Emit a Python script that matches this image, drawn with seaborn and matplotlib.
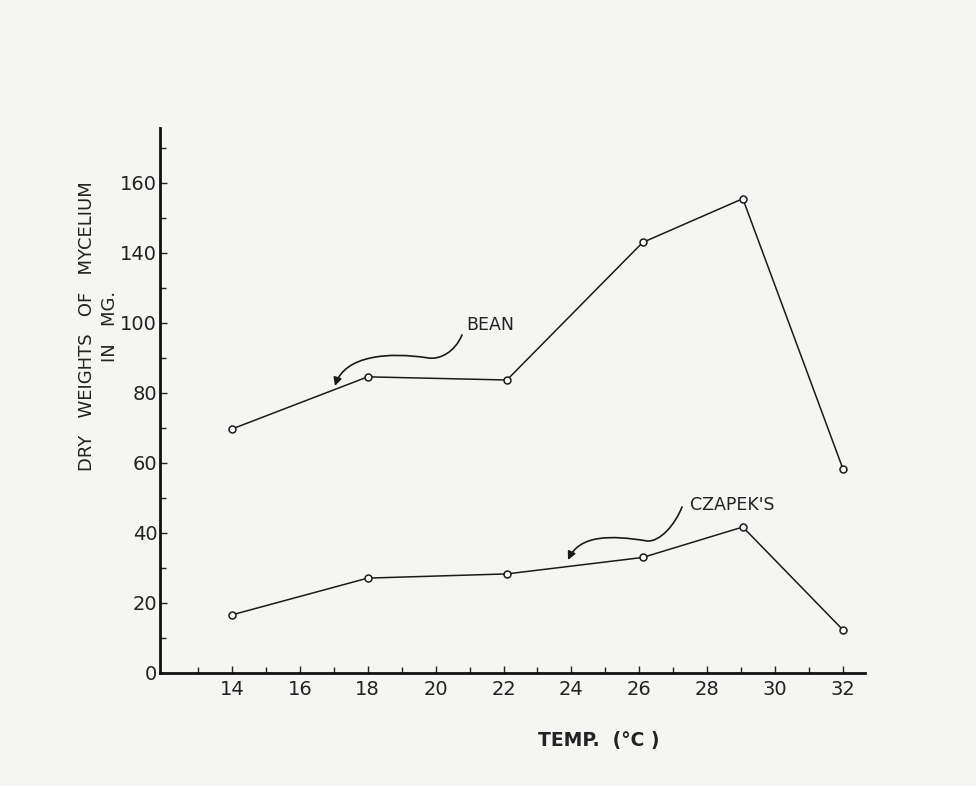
import matplotlib
matplotlib.use("Agg")
import matplotlib.pyplot as plt
import seaborn as sns
import pandas as pd
from matplotlib.path import Path
from matplotlib.patches import FancyArrowPatch
from matplotlib.ticker import FixedLocator, FixedFormatter

# ---- data ----
temps = [14, 18, 22.1, 26.1, 29.05, 32]
bean = [69.7, 84.6, 83.7, 123.0, 135.5, 58.3]
czapek = [16.6, 27.1, 28.3, 33.0, 41.7, 12.3]
ytick_pos = [0, 20, 40, 60, 80, 100, 120, 140]
ytick_labels = ["0", "20", "40", "60", "80", "100", "140", "160"]
xtick_pos = [14, 16, 18, 20, 22, 24, 26, 28, 30, 32]
xtick_labels = [str(v) for v in xtick_pos]

df = pd.DataFrame({
    "temp": temps * 2,
    "weight": bean + czapek,
    "medium": ["BEAN"] * len(temps) + ["CZAPEK'S"] * len(temps),
})

sns.set_theme(style="ticks")
plt.rcParams["font.family"] = ["DejaVu Sans"]

paper = "#f5f5f3"
fig = plt.figure(figsize=(9.76, 7.86), dpi=100, facecolor=paper)
ax = fig.add_axes([0.1639, 0.1438, 0.7224, 0.6934])
ax.set_facecolor(paper)

sns.lineplot(data=df, x="temp", y="weight", units="medium", estimator=None,
             color="#1a1a1a", linewidth=1.1, marker="o", markersize=5,
             markerfacecolor="white", markeredgecolor="#1a1a1a",
             markeredgewidth=1.1, ax=ax, legend=False)

ax.set_xlim(11.88, 32.65)
ax.set_ylim(0, 155.7)
for s in ["top", "right"]:
    ax.spines[s].set_visible(False)
for s in ["left", "bottom"]:
    ax.spines[s].set_linewidth(2.0)
    ax.spines[s].set_color("#111111")

ax.yaxis.set_major_locator(FixedLocator(ytick_pos))
ax.yaxis.set_major_formatter(FixedFormatter(ytick_labels))
ax.yaxis.set_minor_locator(FixedLocator([10, 30, 50, 70, 90, 110, 130, 150]))
ax.xaxis.set_major_locator(FixedLocator(xtick_pos))
ax.xaxis.set_major_formatter(FixedFormatter(xtick_labels))
ax.xaxis.set_minor_locator(FixedLocator([13, 15, 17, 19, 21, 23, 25, 27, 29, 31]))

ax.tick_params(axis="both", which="both", direction="in", color="#222222", width=1.0)
ax.tick_params(axis="both", which="major", length=5, labelsize=14, labelcolor="#222222")
ax.tick_params(axis="both", which="minor", length=4)
ax.tick_params(axis="y", which="major", pad=2)
ax.tick_params(axis="x", which="major", pad=5)
ax.set_xlabel("")
ax.set_ylabel("")

fig.text(0.101, 0.585, "DRY   WEIGHTS   OF   MYCELIUM\nIN   MG.", rotation=90,
         ha="center", va="center", fontsize=13, color="#222222", linespacing=1.3,
         multialignment="center")
fig.text(0.613, 0.058, "TEMP.  (°C )", ha="center", va="center", fontsize=13.5,
         color="#222222", fontweight="bold")

ax.text(21.6, 99.4, "BEAN", ha="center", va="center", fontsize=12.5, color="#222222")
ax.text(28.73, 48.0, "CZAPEK'S", ha="center", va="center", fontsize=12.5, color="#222222")

def curve(pts):
    codes = [Path.MOVETO] + [Path.CURVE4] * (len(pts) - 1)
    return Path(pts, codes)

bean_arrow = [(20.777, 96.57), (20.57, 91.71), (20.13, 89.43), (19.775, 90.0),
              (18.655, 91.71), (17.33, 90.86), (17.035, 82.0)]
cz_arrow = [(27.259, 47.43), (27.05, 42.29), (26.61, 37.43), (26.23, 37.71),
            (25.14, 39.43), (24.25, 39.43), (23.90, 32.29)]
for pts in (bean_arrow, cz_arrow):
    p = FancyArrowPatch(path=curve(pts), arrowstyle="-|>", mutation_scale=12,
                        color="#1a1a1a", linewidth=1.2, transform=ax.transData)
    ax.add_patch(p)

fig.savefig("out.png", dpi=100, facecolor=paper)
